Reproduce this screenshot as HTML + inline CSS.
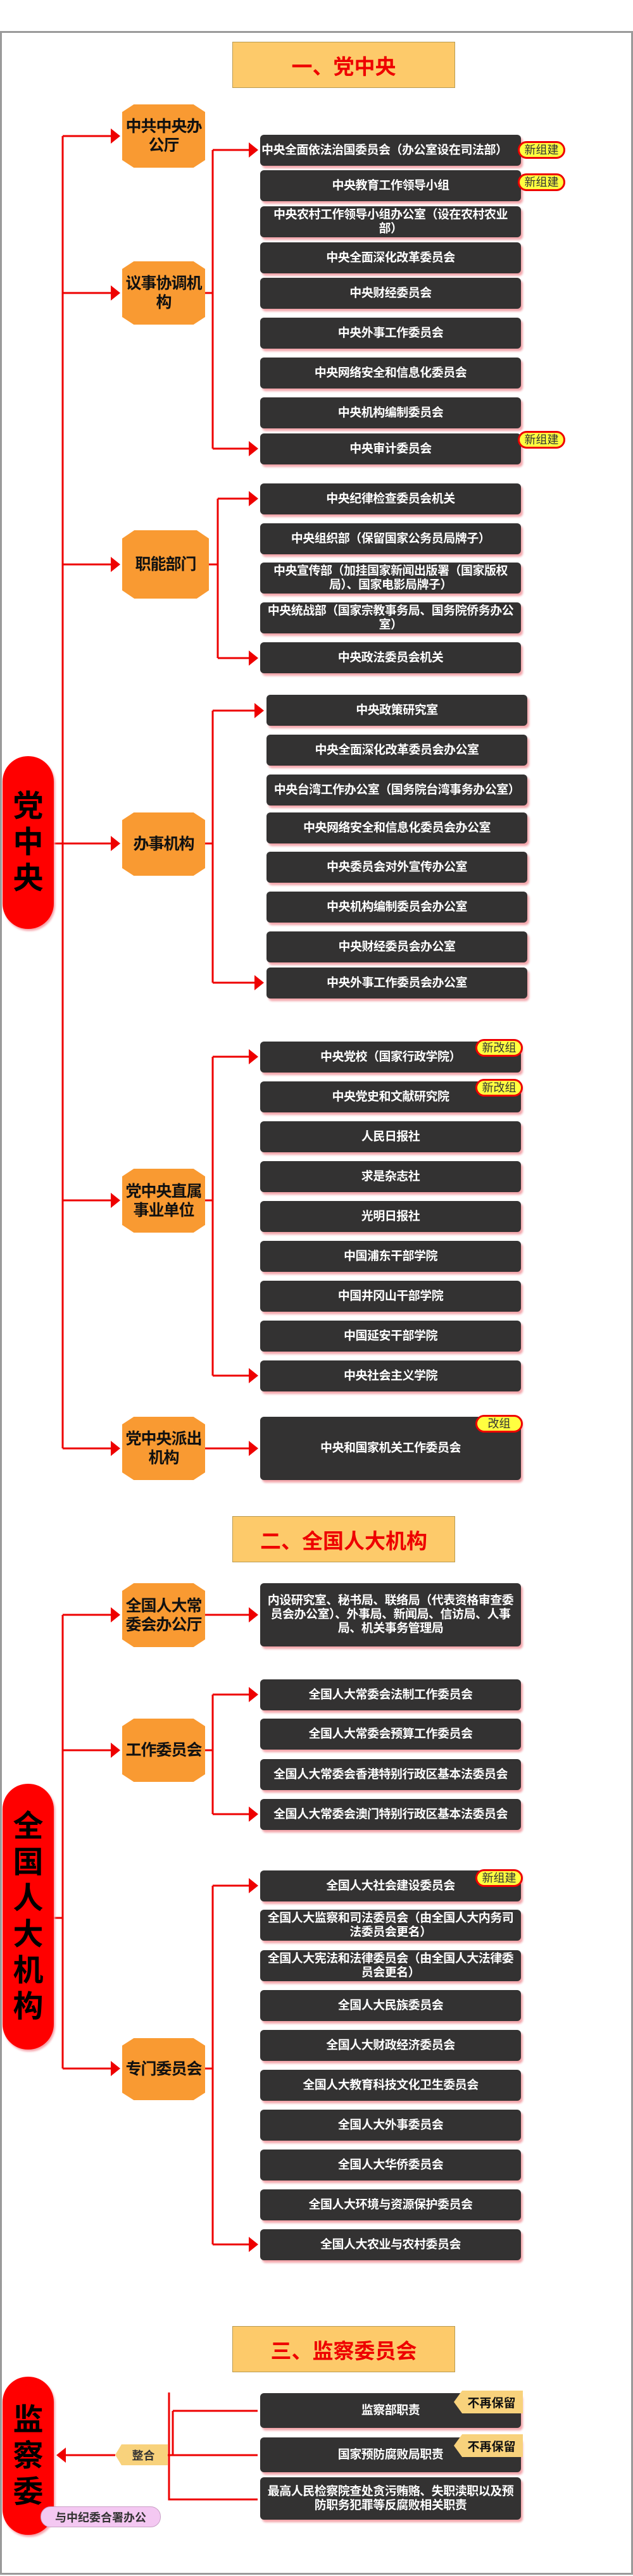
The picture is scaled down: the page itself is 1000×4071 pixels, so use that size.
<!DOCTYPE html>
<html><head><meta charset="utf-8">
<style>
*{margin:0;padding:0;box-sizing:border-box}
html,body{width:1000px;height:4071px;background:#fff;overflow:hidden}
body{position:relative;font-family:"Liberation Sans","Noto Sans CJK SC",sans-serif}
.frame{position:absolute;left:0;top:49px;width:1000px;height:4020px;border:3px solid #9a9a9a;background:#fff}
.title{position:absolute;left:367px;width:352px;height:73px;background:#fdca6a;border:1px solid #b89a50;color:#e00;font-weight:bold;font-size:33px;display:flex;align-items:center;justify-content:center}
.d{position:absolute;left:411px;width:412px;height:49px;background:#333232;border-radius:6px;color:#fff;font-weight:bold;font-size:19px;line-height:22px;display:flex;align-items:center;justify-content:center;text-align:center;box-shadow:3px 4px 3px #f3a6ac;letter-spacing:-0.5px}
.d.x{left:421px}
.o{position:absolute;left:193px;width:131px;background:#f99a32;color:#111;font-weight:bold;font-size:25px;line-height:30px;display:flex;align-items:center;justify-content:center;text-align:center;clip-path:polygon(14% 0,86% 0,100% 12%,100% 88%,86% 100%,14% 100%,0 88%,0 12%);letter-spacing:-1px}
.pill{position:absolute;left:4px;width:81px;background:#f00;border-radius:40px;color:#000;font-weight:bold;font-size:48px;line-height:57px;display:flex;align-items:center;justify-content:center;text-align:center;box-shadow:2px 3px 3px #f5a0a8}
.b{position:absolute;height:28px;background:#ffff40;border:3px solid #e00;border-radius:14px;color:#333;font-size:18px;line-height:22px;display:flex;align-items:center;justify-content:center}
.n{position:absolute;left:717px;width:109px;height:36px;background:#f8d27c;color:#111;font-weight:bold;font-size:19px;display:flex;align-items:center;justify-content:center;padding-left:10px;clip-path:polygon(12% 0,100% 0,100% 100%,12% 100%,0 50%)}
</style></head><body>
<div class="frame"></div>

<svg style="position:absolute;left:0;top:0" width="1000" height="4071">
<g stroke="#e00" stroke-width="3" fill="none">
<!-- trunk 1 -->
<path d="M99 215V2289"/>
<path d="M99 215H178M99 463H178M99 892H178M99 1333H178M99 1897H178M99 2289H178M85 1333H99"/>
<!-- 议事 -->
<path d="M324 463H336M336 237V709M336 237H396M336 709H396"/>
<!-- 职能 -->
<path d="M330 892H344M344 788V1040M344 788H396M344 1040H396"/>
<!-- 办事 -->
<path d="M324 1333H336M336 1123V1553M336 1123H405M336 1553H405"/>
<!-- 直属 -->
<path d="M324 1897H336M336 1670V2174M336 1670H396M336 2174H396"/>
<path d="M324 2289H396"/>
<!-- trunk 2 -->
<path d="M99 2552V3269M99 2552H178M99 2766H178M99 3269H178M85 3031H99"/>
<path d="M324 2552H396"/>
<path d="M324 2766H336M336 2678V2867M336 2678H396M336 2867H396"/>
<path d="M324 3269H336M336 2980V3547M336 2980H396M336 3547H396"/>
<!-- 监察 -->
<path d="M267 3781V3950H407M273 3810V3880M273 3810H407M265 3880H407M182 3880H100"/>
</g>
<g fill="#e00">
<path d="M175 203L190 215L175 227Z"/><path d="M175 451L190 463L175 475Z"/><path d="M175 880L190 892L175 904Z"/>
<path d="M175 1321L190 1333L175 1345Z"/><path d="M175 1885L190 1897L175 1909Z"/><path d="M175 2277L190 2289L175 2301Z"/>
<path d="M393 225L408 237L393 249Z"/><path d="M393 697L408 709L393 721Z"/>
<path d="M393 776L408 788L393 800Z"/><path d="M393 1028L408 1040L393 1052Z"/>
<path d="M402 1111L417 1123L402 1135Z"/><path d="M402 1541L417 1553L402 1565Z"/>
<path d="M393 1658L408 1670L393 1682Z"/><path d="M393 2162L408 2174L393 2186Z"/>
<path d="M393 2277L408 2289L393 2301Z"/>
<path d="M175 2540L190 2552L175 2564Z"/><path d="M175 2754L190 2766L175 2778Z"/><path d="M175 3257L190 3269L175 3281Z"/>
<path d="M393 2540L408 2552L393 2564Z"/>
<path d="M393 2666L408 2678L393 2690Z"/><path d="M393 2855L408 2867L393 2879Z"/>
<path d="M393 2968L408 2980L393 2992Z"/><path d="M393 3535L408 3547L393 3559Z"/>
<path d="M104 3868L89 3880L104 3892Z"/>
</g>
</svg>

<div class="title" style="top:66px">一、党中央</div>
<div class="title" style="top:2396px">二、全国人大机构</div>
<div class="title" style="top:3676px">三、监察委员会</div>

<div class="pill" style="top:1195px;height:273px">党<br>中<br>央</div>
<div class="pill" style="top:2819px;height:420px">全<br>国<br>人<br>大<br>机<br>构</div>
<div class="pill" style="top:3756px;height:250px">监<br>察<br>委</div>

<div class="o" style="top:165px;height:100px">中共中央办<br>公厅</div>
<div class="o" style="top:413px;height:100px">议事协调机<br>构</div>
<div class="o" style="top:838px;height:108px;width:137px">职能部门</div>
<div class="o" style="top:1284px;height:100px">办事机构</div>
<div class="o" style="top:1847px;height:101px">党中央直属<br>事业单位</div>
<div class="o" style="top:2239px;height:100px">党中央派出<br>机构</div>
<div class="o" style="top:2502px;height:101px">全国人大常<br>委会办公厅</div>
<div class="o" style="top:2716px;height:100px">工作委员会</div>
<div class="o" style="top:3221px;height:98px">专门委员会</div>

<div class="d" style="top:213px;justify-content:flex-start;padding-left:2px">中央全面依法治国委员会（办公室设在司法部）</div>
<div class="d" style="top:269px">中央教育工作领导小组</div>
<div class="d" style="top:326px">中央农村工作领导小组办公室（设在农村农业<br>部）</div>
<div class="d" style="top:383px">中央全面深化改革委员会</div>
<div class="d" style="top:439px">中央财经委员会</div>
<div class="d" style="top:502px">中央外事工作委员会</div>
<div class="d" style="top:565px">中央网络安全和信息化委员会</div>
<div class="d" style="top:628px">中央机构编制委员会</div>
<div class="d" style="top:685px">中央审计委员会</div>

<div class="d" style="top:764px">中央纪律检查委员会机关</div>
<div class="d" style="top:827px">中央组织部（保留国家公务员局牌子）</div>
<div class="d" style="top:889px">中央宣传部（加挂国家新闻出版署（国家版权<br>局）、国家电影局牌子）</div>
<div class="d" style="top:952px">中央统战部（国家宗教事务局、国务院侨务办公<br>室）</div>
<div class="d" style="top:1015px">中央政法委员会机关</div>

<div class="d x" style="top:1098px">中央政策研究室</div>
<div class="d x" style="top:1161px">中央全面深化改革委员会办公室</div>
<div class="d x" style="top:1224px">中央台湾工作办公室（国务院台湾事务办公室）</div>
<div class="d x" style="top:1284px">中央网络安全和信息化委员会办公室</div>
<div class="d x" style="top:1346px">中央委员会对外宣传办公室</div>
<div class="d x" style="top:1409px">中央机构编制委员会办公室</div>
<div class="d x" style="top:1472px">中央财经委员会办公室</div>
<div class="d x" style="top:1529px">中央外事工作委员会办公室</div>

<div class="d" style="top:1646px">中央党校（国家行政学院）</div>
<div class="d" style="top:1709px">中央党史和文献研究院</div>
<div class="d" style="top:1772px">人民日报社</div>
<div class="d" style="top:1835px">求是杂志社</div>
<div class="d" style="top:1898px">光明日报社</div>
<div class="d" style="top:1961px">中国浦东干部学院</div>
<div class="d" style="top:2024px">中国井冈山干部学院</div>
<div class="d" style="top:2087px">中国延安干部学院</div>
<div class="d" style="top:2150px">中央社会主义学院</div>
<div class="d" style="top:2239px;height:100px">中央和国家机关工作委员会</div>

<div class="d" style="top:2502px;height:100px">内设研究室、秘书局、联络局（代表资格审查委<br>员会办公室）、外事局、新闻局、信访局、人事<br>局、机关事务管理局</div>
<div class="d" style="top:2654px">全国人大常委会法制工作委员会</div>
<div class="d" style="top:2716px">全国人大常委会预算工作委员会</div>
<div class="d" style="top:2780px">全国人大常委会香港特别行政区基本法委员会</div>
<div class="d" style="top:2843px">全国人大常委会澳门特别行政区基本法委员会</div>

<div class="d" style="top:2956px">全国人大社会建设委员会</div>
<div class="d" style="top:3018px">全国人大监察和司法委员会（由全国人大内务司<br>法委员会更名）</div>
<div class="d" style="top:3082px">全国人大宪法和法律委员会（由全国人大法律委<br>员会更名）</div>
<div class="d" style="top:3145px">全国人大民族委员会</div>
<div class="d" style="top:3208px">全国人大财政经济委员会</div>
<div class="d" style="top:3271px">全国人大教育科技文化卫生委员会</div>
<div class="d" style="top:3334px">全国人大外事委员会</div>
<div class="d" style="top:3397px">全国人大华侨委员会</div>
<div class="d" style="top:3460px">全国人大环境与资源保护委员会</div>
<div class="d" style="top:3523px">全国人大农业与农村委员会</div>

<div class="d" style="top:3782px;height:55px">监察部职责</div>
<div class="d" style="top:3852px;height:55px">国家预防腐败局职责</div>
<div class="d" style="top:3915px;height:67px">最高人民检察院查处贪污贿赂、失职渎职以及预<br>防职务犯罪等反腐败相关职责</div>

<div class="b" style="left:818px;top:223px;width:75px">新组建</div>
<div class="b" style="left:818px;top:274px;width:75px">新组建</div>
<div class="b" style="left:818px;top:681px;width:75px">新组建</div>
<div class="b" style="left:751px;top:1642px;width:75px">新改组</div>
<div class="b" style="left:751px;top:1705px;width:75px">新改组</div>
<div class="b" style="left:751px;top:2236px;width:75px">改组</div>
<div class="b" style="left:751px;top:2954px;width:75px">新组建</div>

<div class="n" style="top:3778px">不再保留</div>
<div class="n" style="top:3847px">不再保留</div>

<div style="position:absolute;left:182px;top:3863px;width:83px;height:33px;background:#f8d27c;clip-path:polygon(12% 0,100% 0,100% 100%,12% 100%,0 50%);display:flex;align-items:center;justify-content:center;padding-left:6px;font-weight:bold;font-size:18px;color:#333">整合</div>

<div style="position:absolute;left:64px;top:3961px;width:190px;height:33px;background:#f4c8f2;border:1px solid #c9a0c6;border-radius:16px;display:flex;align-items:center;justify-content:center;font-weight:bold;font-size:18px;color:#333">与中纪委合署办公</div>
</body></html>
